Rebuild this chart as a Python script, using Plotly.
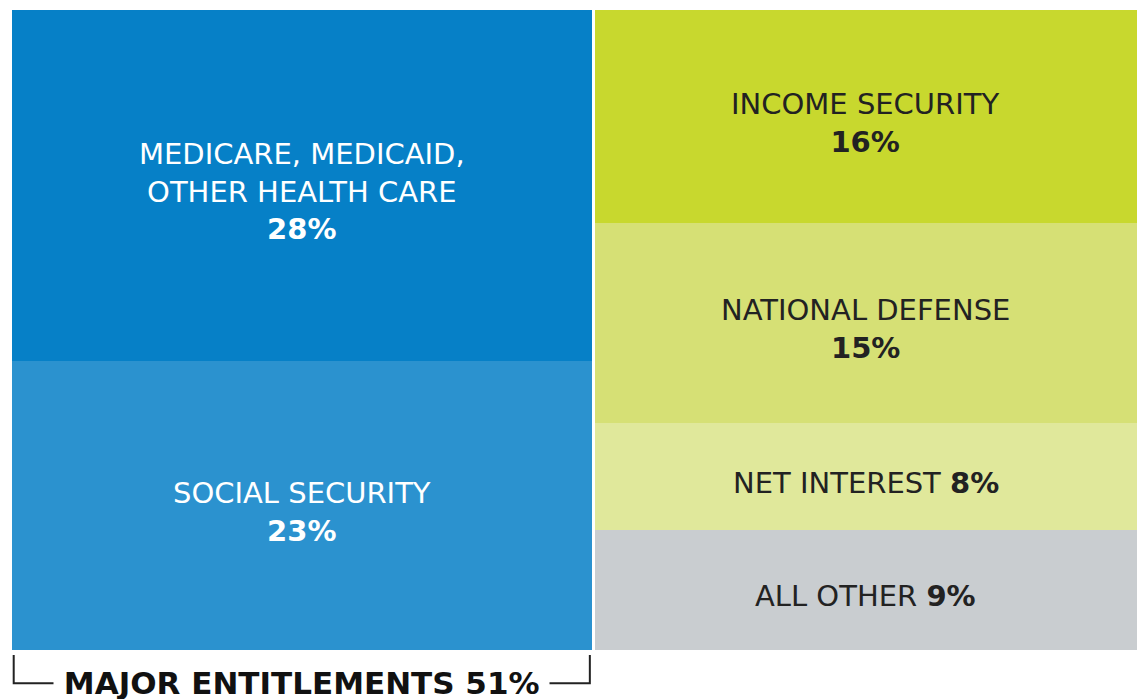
import plotly.graph_objects as go

# Data
columns = ["entitlements", "other"]
column_totals = [51, 48]
segments = [
    ("entitlements", "SOCIAL SECURITY", 23),
    ("entitlements", "MEDICARE, MEDICAID,<br>OTHER HEALTH CARE", 28),
    ("other", "ALL OTHER", 9),
    ("other", "NET INTEREST", 8),
    ("other", "NATIONAL DEFENSE", 15),
    ("other", "INCOME SECURITY", 16),
]
label_inline = [False, False, True, True, False, False]
colors = ["#2B92CF", "#0680C7", "#C9CDD0", "#E0E89B", "#D6E075", "#C8D82E"]
text_colors = ["#FFFFFF", "#FFFFFF", "#222222", "#222222", "#222222", "#222222"]
bracket_label = "MAJOR ENTITLEMENTS 51%"

gap = 0.26
left_edges = [0, column_totals[0]]
widths = [column_totals[0], column_totals[1] - gap]
centers = {}
wmap = {}
tot = {}
for i, c in enumerate(columns):
    start = left_edges[i] + (gap if i > 0 else 0)
    wmap[c] = widths[i]
    centers[c] = start + widths[i] / 2
    tot[c] = column_totals[i]

FONT = "DejaVu Sans"

fig = go.Figure()
cum = {c: 0.0 for c in columns}
for (col, lab, val), inline, colr, tc in zip(segments, label_inline, colors, text_colors):
    sep = " " if inline else "<br>"
    txt = f"{lab}{sep}<b>{val}%</b>"
    fig.add_trace(go.Bar(
        x=[centers[col]], y=[val], width=[wmap[col]],
        marker=dict(color=colr, line=dict(width=0)),
        hoverinfo="skip", showlegend=False,
    ))
    ymid = (cum[col] + val / 2) / tot[col]
    cum[col] += val
    fig.add_annotation(x=centers[col], y=ymid, xref="x", yref="y",
                       text=txt, showarrow=False, yshift=-6,
                       font=dict(family=FONT, size=29, color=tc))

fig.update_layout(
    barmode="stack", barnorm="fraction", bargap=0,
    width=1137, height=699,
    margin=dict(l=12, r=0, t=10, b=49),
    paper_bgcolor="white", plot_bgcolor="white",
    xaxis=dict(range=[0, sum(column_totals)], visible=False, fixedrange=True),
    yaxis=dict(range=[0, 1], visible=False, fixedrange=True),
)

# bracket under the entitlements column
yt, yb = -0.008, -0.052
x0, x1 = 0.15, column_totals[0] - 0.15
fig.add_shape(type="path", xref="x", yref="paper",
              path=f"M {x0},{yt} L {x0},{yb} L {x1},{yb} L {x1},{yt}",
              line=dict(color="#222222", width=2))
fig.add_annotation(x=column_totals[0] / 2, xref="x", y=yb, yref="paper",
                   text="\u00a0<b>" + bracket_label + "</b>\u00a0", showarrow=False,
                   yanchor="middle", xanchor="center",
                   bgcolor="white", borderpad=0,
                   font=dict(family=FONT, size=31, color="#111111"))

fig.write_html(
    "out.html",
    config={"displayModeBar": False},
    post_script="document.body.style.margin='0';document.body.style.overflow='hidden';",
)
